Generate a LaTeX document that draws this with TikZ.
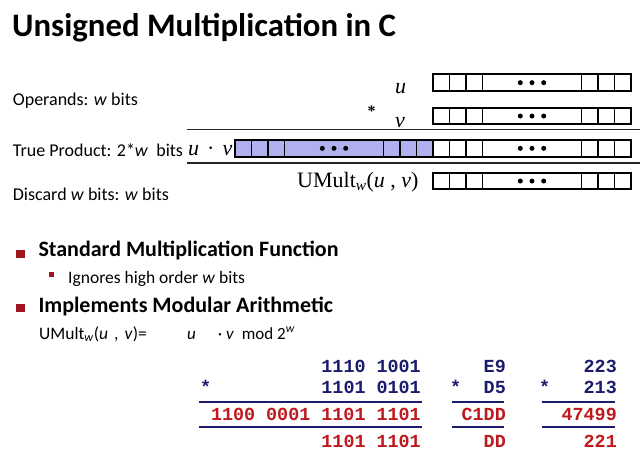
\documentclass[tikz,border=0pt]{standalone}
\usepackage{fontspec}
\setmainfont{Liberation Serif}
\setsansfont{Carlito}
\setmonofont{Liberation Mono}
\usepackage{tikz}
\usetikzlibrary{positioning}
\definecolor{navy}{RGB}{28,28,110}
\definecolor{darkred}{RGB}{190,25,30}
\definecolor{bulletred}{RGB}{160,22,32}
\definecolor{lavender}{RGB}{176,176,238}

\begin{document}
\begin{tikzpicture}[x=1pt, y=-1pt,
    reg/.style={line width=1.9pt},
    sep/.style={line width=1.6pt, black!85},
    lbl/.style={anchor=base west, inner sep=0pt, font=\sffamily\fontsize{18}{20}\selectfont},
    serif/.style={anchor=base west, inner sep=0pt, font=\rmfamily\fontsize{22}{24}\selectfont},
    head/.style={anchor=base west, inner sep=0pt, font=\sffamily\bfseries\fontsize{22}{24}\selectfont},
    num/.style={anchor=base east, inner sep=0pt, font=\ttfamily\bfseries\fontsize{18.4}{20}\selectfont},
    bar/.style={line width=1.5pt, navy}]
    \fill[white] (0,0) rectangle (640,452);
    \useasboundingbox (0,0) rectangle (640,452);

    % Title
    \node[anchor=base west, inner sep=0pt, font=\sffamily\bfseries\fontsize{32.8}{36}\selectfont] (title) at (12,36.7) {Unsigned Multiplication in C};

    % Left labels
    \node[lbl] (operands) at (12.7,105.7) {Operands: \textit{w} bits};
    \node[lbl] (trueprod) at (12.7,156) {True Product: 2*\textit{w}\ \ bits};
    \node[lbl] (discard) at (12.7,200) {Discard \textit{w} bits: \textit{w} bits};

    % Upper half of the true product
    \fill[lavender] (235,140) rectangle (433,156.7);

    % Bit registers
    \foreach \rx/\ry in {433/74.3, 433/107.7, 235/140, 433/140, 433/172.7} {
        \draw[reg] (\rx,\ry) rectangle ++(198,16.7);
        \foreach \dx in {16.5,33,49.5,148.5,165,181.5}
            \draw[reg] (\rx+\dx,\ry) -- ++(0,16.7);
        \foreach \dx in {-11.7,0,11.7}
            \fill (\rx+99+\dx,\ry+8.35) circle (2.5pt);
    }

    % Separator lines
    \draw[sep] (186.5,129.3) -- (640,129.3);
    \draw[sep] (186.5,162.7) -- (640,162.7);

    % Register labels
    \node[serif] (u) at (395,93.3) {\textit{u}};
    \node[serif, font=\rmfamily\bfseries\fontsize{16}{18}\selectfont] (star) at (367.5,117) {*};
    \node[serif] (v) at (395,127) {\textit{v}};
    \node[serif] (uv) at (188,155) {\textit{u}\hspace{8pt}·\hspace{8pt}\textit{v}};
    \node[serif] (umult) at (297,187.7) {UMult\textsubscript{\textit{w}}(\textit{u} , \textit{v})};

    % Bullets
    \fill[bulletred] (15.5,250) rectangle (24.5,257.5);
    \node[head] (stdmult) at (38.3,256) {Standard Multiplication Function};
    \fill[bulletred] (49,272) rectangle (53.5,276.5);
    \node[lbl, font=\sffamily\fontsize{17.5}{20}\selectfont] (ignores) at (68,283.3) {Ignores high order \textit{w} bits};
    \fill[bulletred] (15.5,304) rectangle (24.5,311.5);
    \node[head] (modarith) at (38.3,312.7) {Implements Modular Arithmetic};
    \node[lbl, font=\sffamily\fontsize{17.5}{20}\selectfont] (umulteq) at (39,339) {UMult\textsubscript{\textit{w}}(\textit{u}\hspace{6pt},\hspace{6pt}\textit{v})=};
    \node[lbl, font=\sffamily\fontsize{17}{20}\selectfont] (uvmod) at (187,339) {\textit{u}\hspace{22pt}·\hspace{4pt}\textit{v}\ \ mod 2\textsuperscript{\textit{w}}};

    % Binary example
    \node[num, navy] (bina) at (421,372.7) {1110 1001};
    \node[num, navy, anchor=base west] (binstar) at (200,393.7) {*};
    \node[num, navy] (binb) at (421,393.7) {1101 0101};
    \node[num, darkred] (binfull) at (421,420.3) {1100 0001 1101 1101};
    \node[num, darkred] (bintrunc) at (421,447) {1101 1101};
    \draw[bar] (199.3,402) -- (421.7,402);
    \draw[bar] (199.3,427) -- (421.7,427);

    % Hex example
    \node[num, navy] (hexa) at (506,372.7) {E9};
    \node[num, navy, anchor=base west] (hexstar) at (450,393.7) {*};
    \node[num, navy] (hexb) at (506,393.7) {D5};
    \node[num, darkred] (hexfull) at (506,420.3) {C1DD};
    \node[num, darkred] (hextrunc) at (506,447) {DD};
    \draw[bar] (451.7,402) -- (504,402);
    \draw[bar] (451.7,427) -- (504,427);

    % Decimal example
    \node[num, navy] (deca) at (617,372.7) {223};
    \node[num, navy, anchor=base west] (decstar) at (539,393.7) {*};
    \node[num, navy] (decb) at (617,393.7) {213};
    \node[num, darkred] (decfull) at (617,420.3) {47499};
    \node[num, darkred] (dectrunc) at (617,447) {221};
    \draw[bar] (541.7,402) -- (615,402);
    \draw[bar] (541.7,427) -- (615,427);
\end{tikzpicture}
\end{document}
